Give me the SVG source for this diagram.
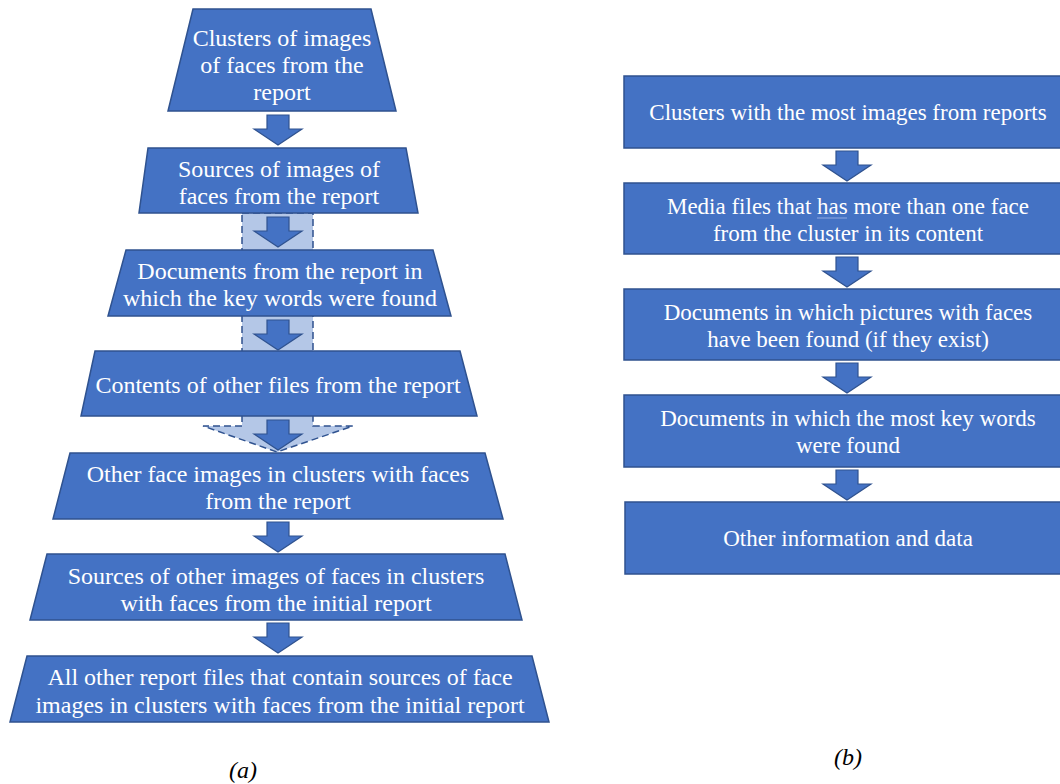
<svg xmlns="http://www.w3.org/2000/svg" xmlns:xlink="http://www.w3.org/1999/xlink" width="1060" height="784" viewBox="0 0 1060 784">
  <style>
    .box { fill: #4472c4; stroke: #2f528f; stroke-width: 1.5; }
    .arrow { fill: #4472c4; stroke: #2f528f; stroke-width: 1.2; }
    .halo { fill: #b4c7e7; stroke: #2f528f; stroke-width: 1.5; stroke-dasharray: 7 4; }
    text { fill: #ffffff; text-anchor: middle; }
    .cap { fill: #000000; font-style: italic; font-size: 24px; }
  </style>
  <defs>
    <!-- block arrow pointing down, origin at top centre of the shaft -->
    <path id="down" d="M-11,0 H11 V14 H24 L0,30 L-24,14 H-11 Z"/>
  </defs>

  <rect width="1060" height="784" fill="#ffffff"/>

  <!-- light dashed bands behind the middle steps of (a) -->
  <g id="bands">
    <rect class="halo" x="242" y="213" width="71" height="38"/>
    <rect class="halo" x="242" y="315" width="71" height="37"/>
    <path class="halo" d="M242,415 V426 H203 L277,452 L353,426 H313 V415"/>
  </g>

  <g id="connectors">
    <use xlink:href="#down" class="arrow" x="278" y="115"/>
    <use xlink:href="#down" class="arrow" x="278" y="217"/>
    <use xlink:href="#down" class="arrow" x="278" y="320"/>
    <use xlink:href="#down" class="arrow" x="278" y="420"/>
    <use xlink:href="#down" class="arrow" x="278" y="522"/>
    <use xlink:href="#down" class="arrow" x="278" y="623"/>

    <use xlink:href="#down" class="arrow" x="847" y="151"/>
    <use xlink:href="#down" class="arrow" x="847" y="257"/>
    <use xlink:href="#down" class="arrow" x="847" y="363"/>
    <use xlink:href="#down" class="arrow" x="847" y="470"/>
  </g>

  <!-- (a) funnel of trapezoids -->
  <g font-family="Liberation Serif, Times New Roman, Tinos, serif" font-size="24">
    <g id="a1">
      <polygon class="box" points="193,9 371,9 396,111 168,111"/>
      <text x="282" y="46">Clusters of images</text>
      <text x="282" y="73">of faces from the</text>
      <text x="282" y="100">report</text>
    </g>
    <g id="a2">
      <polygon class="box" points="148,148 406,148 418,213 139,213"/>
      <text x="279" y="177">Sources of images of</text>
      <text x="279" y="204">faces from the report</text>
    </g>
    <g id="a3">
      <polygon class="box" points="126,250 433,250 451,316 108,316"/>
      <text x="280" y="279">Documents from the report in</text>
      <text x="280" y="306">which the key words were found</text>
    </g>
    <g id="a4">
      <polygon class="box" points="95,351 460,351 477,416 81,416"/>
      <text x="278" y="393">Contents of other files from the report</text>
    </g>
    <g id="a5">
      <polygon class="box" points="70,453 485,453 503,519 53,519"/>
      <text x="278" y="482">Other face images in clusters with faces</text>
      <text x="278" y="509">from the report</text>
    </g>
    <g id="a6">
      <polygon class="box" points="47,554 505,554 522,620 30,620"/>
      <text x="276" y="584">Sources of other images of faces in clusters</text>
      <text x="276" y="611">with faces from the initial report</text>
    </g>
    <g id="a7">
      <polygon class="box" points="27,656 532,656 549,722 10,722"/>
      <text x="280" y="685">All other report files that contain sources of face</text>
      <text x="280" y="713">images in clusters with faces from the initial report</text>
    </g>
    <text class="cap" x="243" y="778">(a)</text>
  </g>

  <!-- (b) stack of rectangles -->
  <g font-family="Liberation Serif, Times New Roman, Tinos, serif" font-size="23">
    <g id="b1">
      <rect class="box" x="624" y="76" width="450" height="72"/>
      <text x="848" y="120">Clusters with the most images from reports</text>
    </g>
    <g id="b2">
      <rect class="box" x="624" y="183" width="450" height="71"/>
      <text x="848" y="214">Media files that has more than one face</text>
      <text x="848" y="241">from the cluster in its content</text>
      <line x1="817" y1="218" x2="847" y2="218" stroke="#8fa8e0" stroke-width="1"/>
    </g>
    <g id="b3">
      <rect class="box" x="624" y="289" width="450" height="71"/>
      <text x="848" y="320">Documents in which pictures with faces</text>
      <text x="848" y="347">have been found (if they exist)</text>
    </g>
    <g id="b4">
      <rect class="box" x="624" y="395" width="450" height="72"/>
      <text x="848" y="426">Documents in which the most key words</text>
      <text x="848" y="453">were found</text>
    </g>
    <g id="b5">
      <rect class="box" x="625" y="502" width="450" height="72"/>
      <text x="848" y="546">Other information and data</text>
    </g>
    <text class="cap" x="848" y="765">(b)</text>
  </g>
</svg>
